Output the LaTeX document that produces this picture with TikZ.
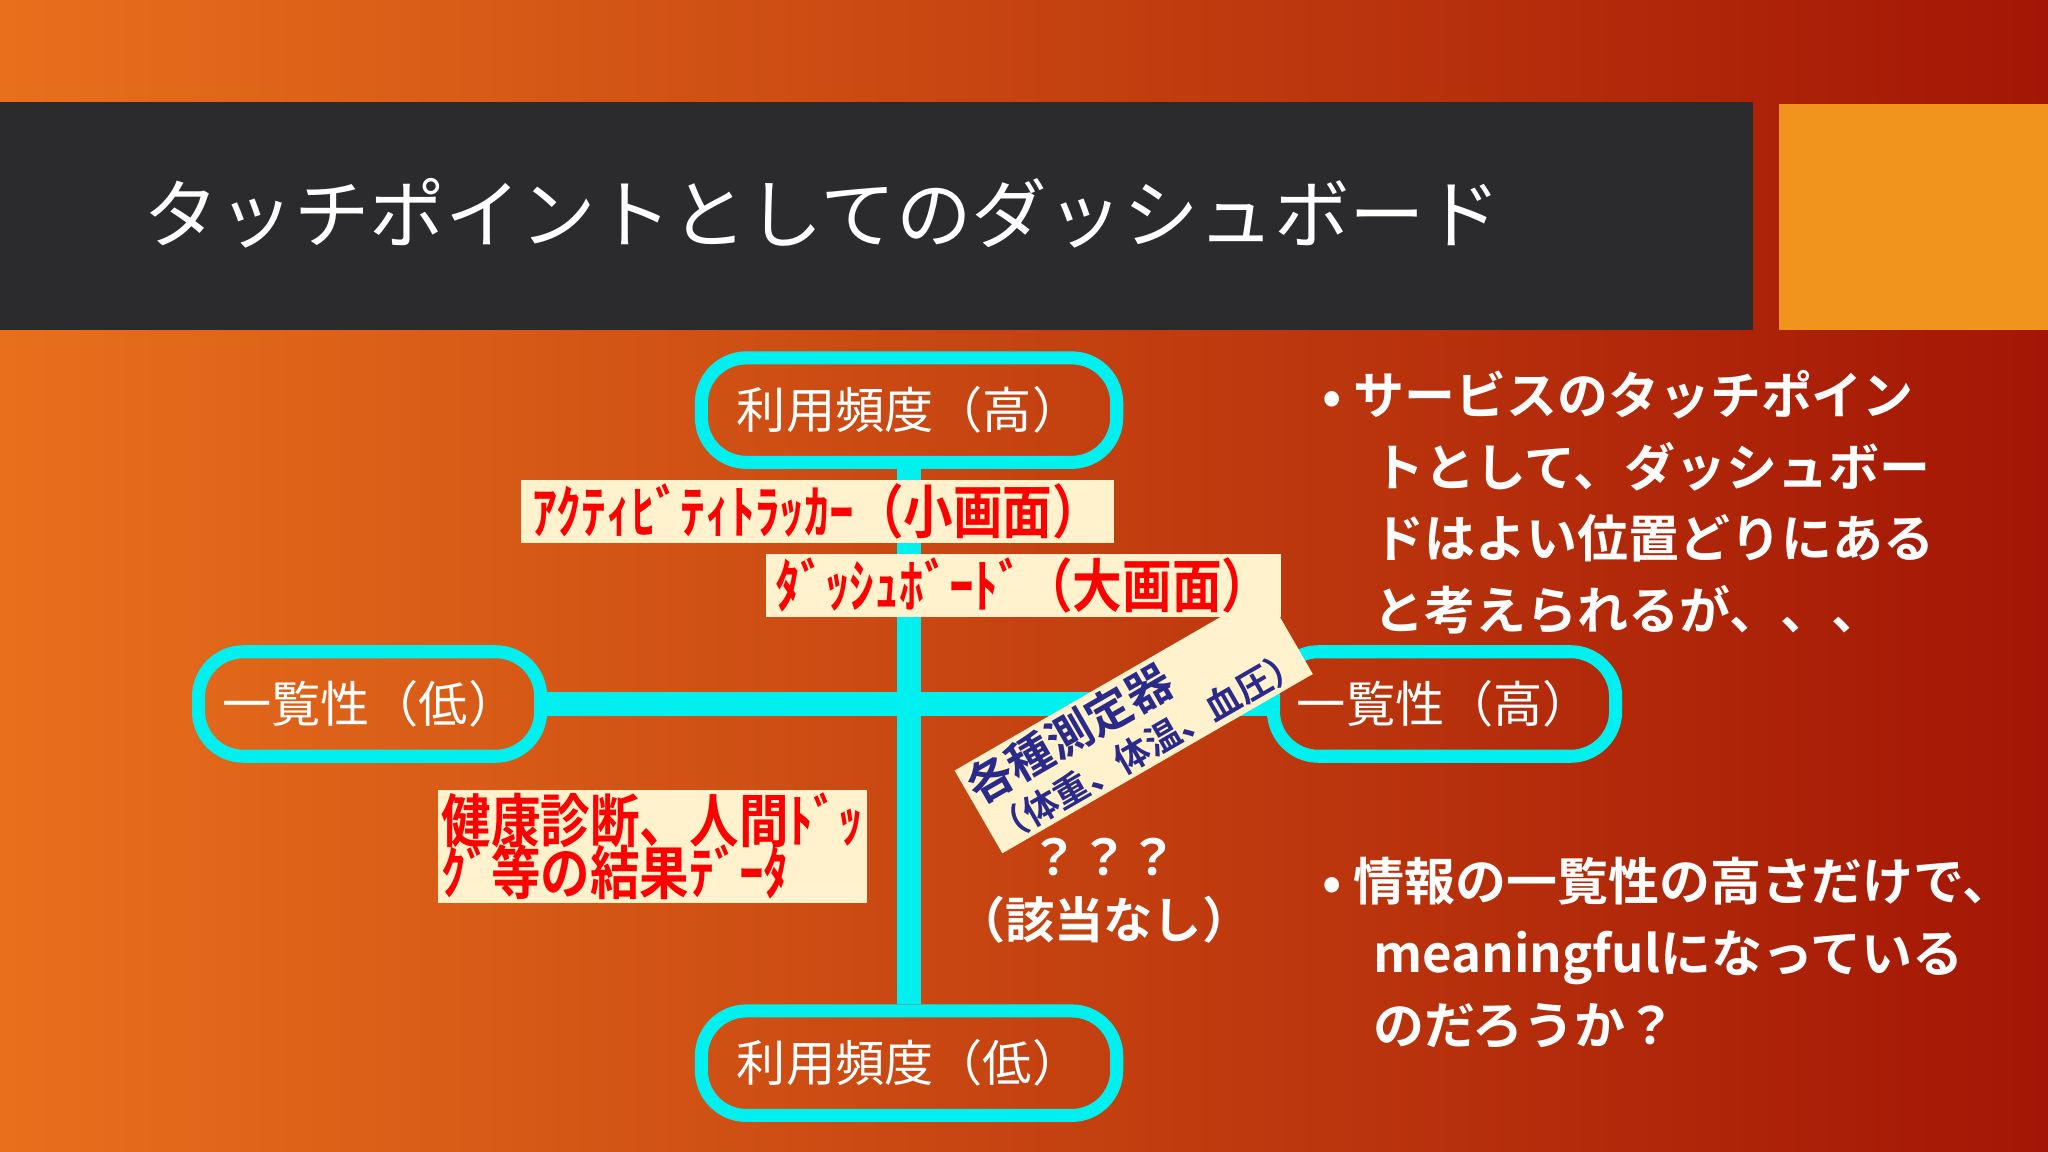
\documentclass[tikz,border=0pt]{standalone}
\usepackage{fontspec}
\setmainfont{Noto Sans CJK JP}
\newfontfamily\jpb{Noto Sans CJK JP Bold}
\usetikzlibrary{positioning}
\definecolor{cy}{HTML}{00F0F0}
\definecolor{band}{HTML}{2B2B2E}
\definecolor{sq}{HTML}{F0941E}
\definecolor{cream}{HTML}{FFF2CC}
\definecolor{lblred}{HTML}{FF0000}
\definecolor{navy}{HTML}{2A2A8A}
\definecolor{bgl}{HTML}{E8701C}
\definecolor{bgr}{HTML}{A31605}
\begin{document}
\begin{tikzpicture}[x=0.013061cm,y=-0.013061cm,
  axisbox/.style={draw=cy,line width=10*0.013061cm,rounded corners=0.45cm,text=white,font=\fontsize{14}{16}\selectfont,inner sep=0pt},
  tag/.style={fill=cream,text=lblred,font=\jpb\fontsize{15}{15}\selectfont,inner sep=1pt,align=left},
  bul/.style={text=white,font=\jpb\fontsize{14.5}{20.4}\selectfont,align=left,anchor=north west,inner sep=0pt}]
\useasboundingbox (0,0) rectangle (1568,882);
\shade[left color=bgl,right color=bgr] (0,0) rectangle (1568,882);
\fill[band] (0,78) rectangle (1342,253);
\fill[sq] (1362,80) rectangle (1568,253);
\node[anchor=west,text=white,font=\fontsize{21.5}{24}\selectfont] (title) at (100,163) {タッチポイントとしてのダッシュボード};
% axes
\node[axisbox,minimum width=318*0.013061cm,minimum height=80*0.013061cm] (top) at (696,314) {利用頻度（高）};
\node[axisbox,minimum width=318*0.013061cm,minimum height=80*0.013061cm] (bot) at (696,814) {利用頻度（低）};
\node[axisbox,minimum width=262*0.013061cm,minimum height=80*0.013061cm] (lft) at (283,539) {一覧性（低）};
\node[axisbox,minimum width=262*0.013061cm,minimum height=80*0.013061cm] (rgt) at (1106,539) {一覧性（高）};
\draw[cy,line width=18*0.013061cm] (top.south) -- (bot.north);
\draw[cy,line width=18*0.013061cm] (lft.east) -- (rgt.west);
% tags
\node[tag,anchor=north west,minimum width=454*0.013061cm,minimum height=43*0.013061cm] (t1) at (398,367) {\scalebox{0.94}[1.1]{ｱｸﾃｨﾋﾞﾃｨﾄﾗｯｶｰ（小画面）}};
\node[tag,anchor=north west,minimum width=394*0.013061cm,minimum height=43*0.013061cm] (t2) at (586,424) {\scalebox{0.94}[1.1]{ﾀﾞｯｼｭﾎﾞｰﾄﾞ（大画面）}};
\node[tag,anchor=north west,font=\jpb\fontsize{15}{14}\selectfont] (t3) at (335,604) {\scalebox{0.94}[1.1]{健康診断、人間ﾄﾞｯ}\\[-2pt]\scalebox{0.94}[1.1]{ｸﾞ等の結果ﾃﾞｰﾀ}};
\node[fill=cream,text=navy,rotate=30,align=left,inner sep=1pt,font=\jpb\fontsize{13}{14}\selectfont] (t4) at (868,553) {各種測定器\\[-1pt]{\fontsize{10}{12}\selectfont （体重、体温、血圧）}};
\node[text=white,align=center,font=\jpb\fontsize{14}{18}\selectfont] (na) at (845,682) {？？？\\（該当なし）};
% bullets
\node[bul] (b1) at (1012,283) {• サービスのタッチポイン\\\hspace*{1em}トとして、ダッシュボー\\\hspace*{1em}ドはよい位置どりにある\\\hspace*{1em}と考えられるが、、、};
\node[bul] (b2) at (1012,656) {• 情報の一覧性の高さだけで、\\\hspace*{1em}meaningfulになっている\\\hspace*{1em}のだろうか？};
\end{tikzpicture}
\end{document}
